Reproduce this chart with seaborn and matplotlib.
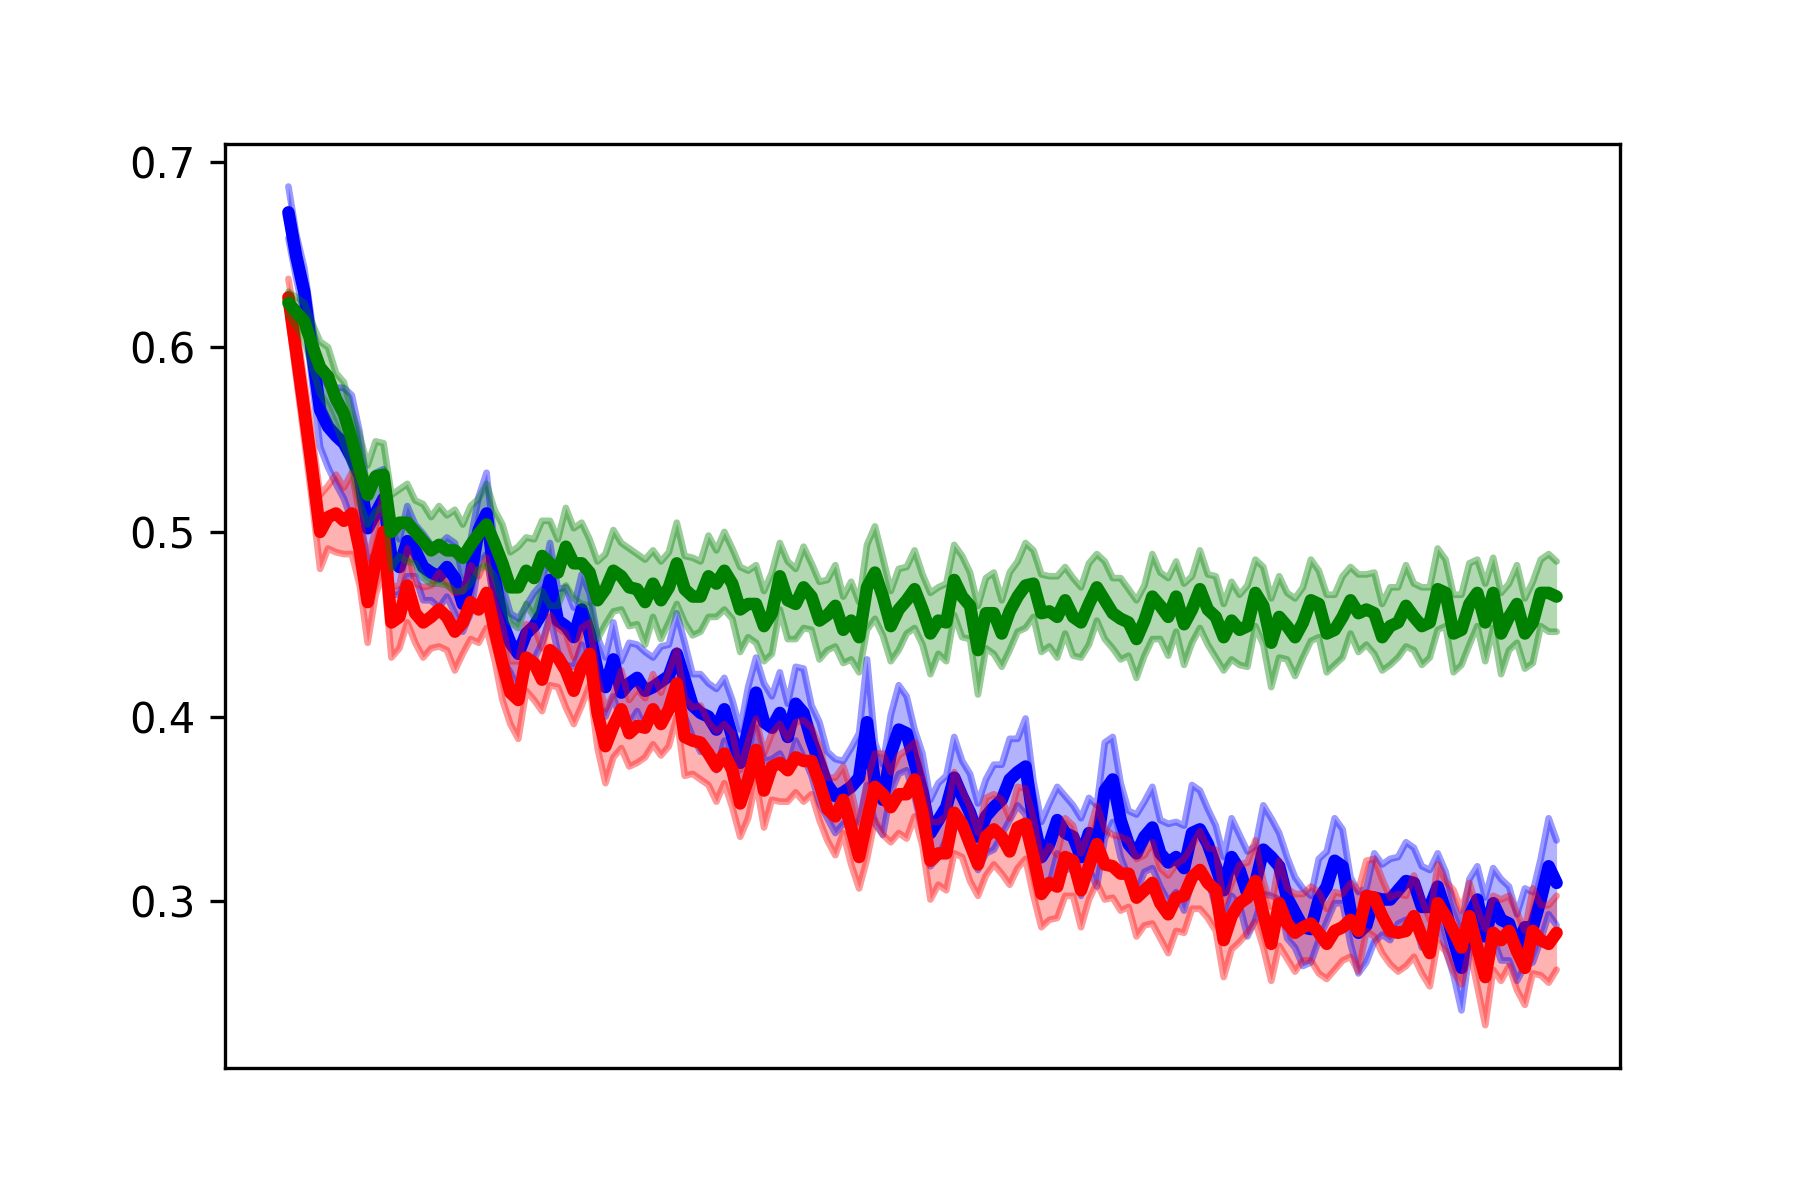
import numpy as np
import pandas as pd
import matplotlib
matplotlib.use("Agg")
import matplotlib.pyplot as plt
import seaborn as sns

# mean curves, one value per step
blue_mean = [
    0.673, 0.649, 0.630, 0.597, 0.566, 0.557, 0.552, 0.548, 0.540, 0.530,
    0.502, 0.510, 0.518, 0.486, 0.481, 0.495, 0.490, 0.481, 0.478, 0.476,
    0.481, 0.475, 0.461, 0.476, 0.501, 0.510, 0.476, 0.451, 0.440, 0.434,
    0.445, 0.449, 0.456, 0.474, 0.452, 0.449, 0.443, 0.458, 0.445, 0.425,
    0.416, 0.431, 0.413, 0.418, 0.421, 0.414, 0.416, 0.419, 0.422, 0.434,
    0.420, 0.406, 0.402, 0.400, 0.393, 0.404, 0.389, 0.375, 0.393, 0.413,
    0.397, 0.394, 0.402, 0.389, 0.407, 0.402, 0.387, 0.375, 0.363, 0.357,
    0.359, 0.362, 0.367, 0.397, 0.364, 0.355, 0.380, 0.393, 0.391, 0.375,
    0.359, 0.337, 0.344, 0.351, 0.367, 0.357, 0.348, 0.335, 0.346, 0.351,
    0.355, 0.366, 0.370, 0.373, 0.344, 0.324, 0.331, 0.344, 0.337, 0.335,
    0.324, 0.337, 0.330, 0.360, 0.366, 0.344, 0.331, 0.326, 0.335, 0.340,
    0.326, 0.321, 0.324, 0.318, 0.337, 0.339, 0.331, 0.319, 0.306, 0.324,
    0.317, 0.304, 0.310, 0.328, 0.324, 0.319, 0.302, 0.294, 0.286, 0.285,
    0.301, 0.308, 0.322, 0.319, 0.295, 0.283, 0.287, 0.302, 0.301, 0.301,
    0.306, 0.311, 0.310, 0.297, 0.297, 0.308, 0.295, 0.279, 0.264, 0.292,
    0.301, 0.281, 0.299, 0.290, 0.288, 0.275, 0.286, 0.286, 0.301, 0.319,
    0.310,
]
red_mean = [
    0.627, 0.597, 0.566, 0.534, 0.500, 0.508, 0.510, 0.506, 0.510, 0.490,
    0.462, 0.484, 0.500, 0.451, 0.454, 0.471, 0.456, 0.451, 0.454, 0.458,
    0.454, 0.446, 0.451, 0.462, 0.458, 0.467, 0.447, 0.429, 0.413, 0.409,
    0.432, 0.429, 0.420, 0.436, 0.432, 0.425, 0.414, 0.427, 0.434, 0.402,
    0.384, 0.395, 0.404, 0.391, 0.395, 0.394, 0.404, 0.396, 0.404, 0.418,
    0.389, 0.387, 0.386, 0.380, 0.373, 0.380, 0.371, 0.353, 0.366, 0.382,
    0.360, 0.373, 0.375, 0.371, 0.378, 0.376, 0.376, 0.364, 0.350, 0.346,
    0.355, 0.340, 0.324, 0.344, 0.362, 0.358, 0.351, 0.358, 0.358, 0.366,
    0.348, 0.322, 0.326, 0.326, 0.348, 0.342, 0.331, 0.320, 0.335, 0.339,
    0.335, 0.327, 0.340, 0.342, 0.324, 0.304, 0.310, 0.308, 0.324, 0.322,
    0.306, 0.319, 0.331, 0.320, 0.319, 0.315, 0.315, 0.302, 0.306, 0.310,
    0.299, 0.293, 0.302, 0.303, 0.313, 0.317, 0.310, 0.306, 0.279, 0.292,
    0.299, 0.302, 0.311, 0.293, 0.277, 0.299, 0.288, 0.283, 0.286, 0.288,
    0.283, 0.277, 0.284, 0.286, 0.290, 0.284, 0.303, 0.302, 0.292, 0.284,
    0.283, 0.284, 0.292, 0.281, 0.272, 0.299, 0.292, 0.284, 0.275, 0.292,
    0.275, 0.259, 0.283, 0.279, 0.284, 0.273, 0.264, 0.284, 0.279, 0.277,
    0.283,
]
green_mean = [
    0.624, 0.619, 0.614, 0.601, 0.589, 0.584, 0.572, 0.564, 0.550, 0.534,
    0.520, 0.530, 0.531, 0.500, 0.505, 0.505, 0.500, 0.495, 0.490, 0.493,
    0.490, 0.490, 0.486, 0.493, 0.499, 0.504, 0.494, 0.483, 0.470, 0.470,
    0.479, 0.475, 0.487, 0.483, 0.478, 0.492, 0.483, 0.483, 0.478, 0.463,
    0.469, 0.479, 0.476, 0.470, 0.469, 0.462, 0.472, 0.463, 0.470, 0.483,
    0.469, 0.465, 0.465, 0.476, 0.472, 0.479, 0.472, 0.458, 0.461, 0.461,
    0.449, 0.456, 0.476, 0.463, 0.461, 0.470, 0.465, 0.452, 0.455, 0.460,
    0.447, 0.452, 0.443, 0.470, 0.478, 0.465, 0.449, 0.458, 0.463, 0.469,
    0.458, 0.445, 0.452, 0.451, 0.474, 0.465, 0.460, 0.436, 0.456, 0.456,
    0.445, 0.457, 0.465, 0.471, 0.472, 0.456, 0.457, 0.454, 0.463, 0.454,
    0.451, 0.461, 0.470, 0.463, 0.456, 0.453, 0.451, 0.442, 0.452, 0.465,
    0.460, 0.454, 0.465, 0.450, 0.458, 0.469, 0.458, 0.454, 0.443, 0.452,
    0.447, 0.449, 0.467, 0.460, 0.440, 0.454, 0.449, 0.443, 0.451, 0.463,
    0.461, 0.445, 0.447, 0.454, 0.463, 0.456, 0.458, 0.456, 0.443, 0.449,
    0.451, 0.460, 0.454, 0.449, 0.451, 0.469, 0.467, 0.445, 0.447, 0.461,
    0.467, 0.451, 0.467, 0.445, 0.454, 0.461, 0.445, 0.451, 0.467, 0.467,
    0.465,
]

# half-width of the shaded band around each mean
blue_spread = [
    0.014, 0.012, 0.013, 0.016, 0.020, 0.022, 0.026, 0.030, 0.034, 0.024,
    0.018, 0.022, 0.016, 0.020, 0.015, 0.019, 0.014, 0.018, 0.015, 0.017,
    0.016, 0.019, 0.015, 0.020, 0.018, 0.022, 0.017, 0.020, 0.016, 0.019,
    0.015, 0.018, 0.016, 0.020, 0.017, 0.021, 0.016, 0.019, 0.022, 0.018,
    0.016, 0.020, 0.017, 0.022, 0.018, 0.021, 0.016, 0.019, 0.017, 0.022,
    0.020, 0.017, 0.021, 0.018, 0.022, 0.017, 0.020, 0.018, 0.023, 0.019,
    0.021, 0.017, 0.022, 0.018, 0.020, 0.024, 0.019, 0.022, 0.018, 0.020,
    0.017, 0.021, 0.024, 0.034, 0.022, 0.019, 0.021, 0.024, 0.020, 0.018,
    0.021, 0.018, 0.020, 0.017, 0.022, 0.019, 0.021, 0.018, 0.020, 0.023,
    0.019, 0.022, 0.018, 0.026, 0.021, 0.019, 0.022, 0.018, 0.020, 0.017,
    0.021, 0.019, 0.022, 0.026, 0.023, 0.020, 0.018, 0.021, 0.019, 0.022,
    0.018, 0.021, 0.019, 0.023, 0.026, 0.021, 0.019, 0.022, 0.018, 0.021,
    0.019, 0.023, 0.020, 0.024, 0.021, 0.018, 0.022, 0.019, 0.021, 0.018,
    0.022, 0.019, 0.023, 0.020, 0.018, 0.022, 0.020, 0.024, 0.019, 0.022,
    0.018, 0.021, 0.019, 0.022, 0.020, 0.018, 0.021, 0.019, 0.023, 0.020,
    0.018, 0.021, 0.019, 0.022, 0.020, 0.018, 0.021, 0.019, 0.022, 0.026,
    0.023,
]
red_spread = [
    0.010, 0.014, 0.016, 0.018, 0.020, 0.017, 0.021, 0.018, 0.022, 0.019,
    0.022, 0.018, 0.021, 0.019, 0.017, 0.020, 0.016, 0.019, 0.017, 0.020,
    0.018, 0.021, 0.017, 0.020, 0.018, 0.019, 0.016, 0.020, 0.017, 0.021,
    0.018, 0.020, 0.017, 0.019, 0.016, 0.020, 0.018, 0.021, 0.017, 0.019,
    0.020, 0.017, 0.021, 0.018, 0.020, 0.016, 0.019, 0.017, 0.020, 0.018,
    0.021, 0.018, 0.020, 0.017, 0.019, 0.016, 0.020, 0.018, 0.021, 0.017,
    0.020, 0.018, 0.021, 0.017, 0.019, 0.022, 0.018, 0.020, 0.017, 0.021,
    0.018, 0.020, 0.017, 0.021, 0.018, 0.022, 0.019, 0.021, 0.024, 0.020,
    0.018, 0.021, 0.017, 0.020, 0.022, 0.018, 0.020, 0.017, 0.021, 0.019,
    0.020, 0.018, 0.022, 0.019, 0.021, 0.018, 0.020, 0.017, 0.021, 0.019,
    0.020, 0.018, 0.021, 0.019, 0.017, 0.020, 0.018, 0.021, 0.019, 0.022,
    0.019, 0.021, 0.018, 0.020, 0.017, 0.021, 0.019, 0.022, 0.020, 0.018,
    0.021, 0.019, 0.022, 0.018, 0.020, 0.023, 0.019, 0.021, 0.018, 0.020,
    0.022, 0.019, 0.021, 0.018, 0.020, 0.022, 0.019, 0.021, 0.020, 0.018,
    0.021, 0.019, 0.022, 0.020, 0.018, 0.021, 0.019, 0.022, 0.020, 0.018,
    0.021, 0.026, 0.020, 0.022, 0.019, 0.021, 0.020, 0.023, 0.019, 0.021,
    0.020,
]
green_spread = [
    0.006, 0.008, 0.010, 0.012, 0.014, 0.016, 0.014, 0.017, 0.015, 0.018,
    0.016, 0.019, 0.017, 0.020, 0.018, 0.021, 0.017, 0.020, 0.018, 0.021,
    0.019, 0.022, 0.018, 0.021, 0.019, 0.022, 0.018, 0.021, 0.019, 0.022,
    0.018, 0.021, 0.019, 0.023, 0.018, 0.021, 0.019, 0.022, 0.018, 0.021,
    0.019, 0.022, 0.018, 0.021, 0.019, 0.023, 0.018, 0.021, 0.019, 0.022,
    0.018, 0.021, 0.019, 0.022, 0.018, 0.021, 0.019, 0.023, 0.018, 0.021,
    0.019, 0.022, 0.018, 0.021, 0.019, 0.022, 0.018, 0.021, 0.019, 0.022,
    0.018, 0.021, 0.019, 0.023, 0.025, 0.021, 0.019, 0.022, 0.018, 0.021,
    0.019, 0.022, 0.018, 0.021, 0.019, 0.022, 0.018, 0.024, 0.019, 0.022,
    0.018, 0.021, 0.019, 0.023, 0.018, 0.021, 0.019, 0.022, 0.018, 0.021,
    0.019, 0.022, 0.018, 0.021, 0.019, 0.022, 0.018, 0.021, 0.019, 0.023,
    0.018, 0.021, 0.019, 0.022, 0.018, 0.021, 0.019, 0.022, 0.018, 0.021,
    0.019, 0.022, 0.018, 0.021, 0.024, 0.022, 0.018, 0.021, 0.019, 0.022,
    0.018, 0.021, 0.019, 0.022, 0.018, 0.021, 0.019, 0.022, 0.018, 0.021,
    0.019, 0.022, 0.018, 0.021, 0.019, 0.022, 0.018, 0.021, 0.019, 0.022,
    0.018, 0.021, 0.019, 0.022, 0.018, 0.021, 0.019, 0.022, 0.018, 0.021,
    0.019,
]

steps = np.arange(len(blue_mean))

fig, ax = plt.subplots(figsize=(6, 4), dpi=300)

series = [
    ("blue", blue_mean, blue_spread),
    ("red", red_mean, red_spread),
    ("green", green_mean, green_spread),
]
for color, mean, spread in series:
    mean = np.array(mean)
    spread = np.array(spread)
    lo = mean - spread
    hi = mean + spread
    ax.fill_between(steps, lo, hi, color=color, alpha=0.3, linewidth=0)
    sns.lineplot(x=steps, y=lo, color=color, alpha=0.4, linewidth=1.6, ax=ax,
                 solid_joinstyle="round", solid_capstyle="round")
    sns.lineplot(x=steps, y=hi, color=color, alpha=0.4, linewidth=1.6, ax=ax,
                 solid_joinstyle="round", solid_capstyle="round")
    sns.lineplot(x=steps, y=mean, color=color, linewidth=3.0, ax=ax,
                 solid_joinstyle="round", solid_capstyle="round")

ax.set_xticks([])
ax.set_yticks([0.3, 0.4, 0.5, 0.6, 0.7])
ax.set_ylim(0.2098, 0.7100)
ax.set_xlabel("")
ax.set_ylabel("")

plt.savefig("out.png", dpi=300)
plt.close()
